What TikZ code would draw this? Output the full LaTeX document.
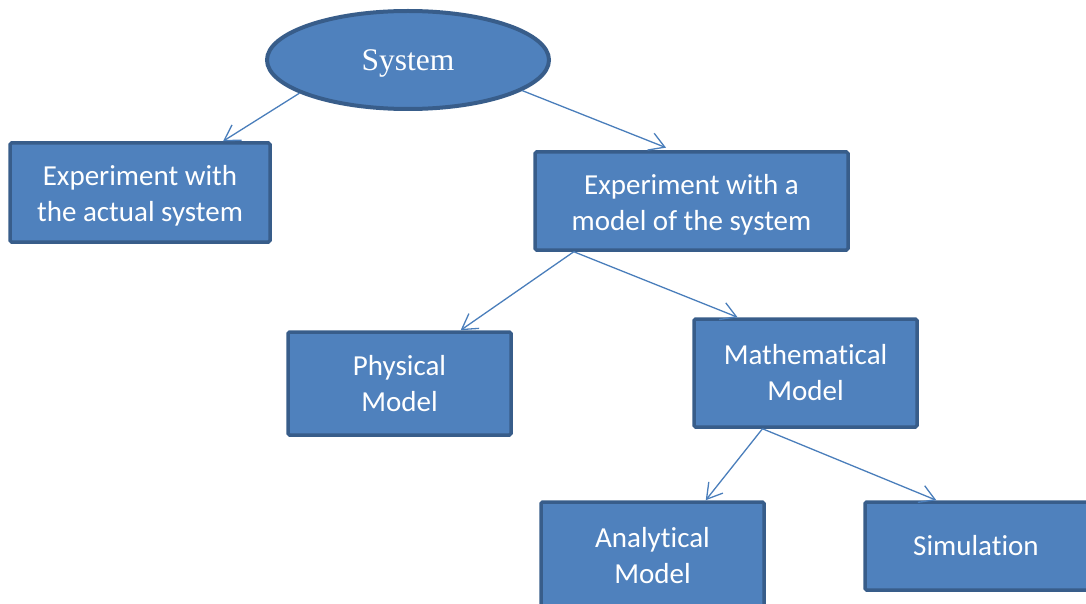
\documentclass[tikz,border=0pt]{standalone}
\usepackage{fontspec}
\setmainfont{Carlito}[Ligatures=NoCommon]
\newfontfamily\timesfont{Liberation Serif}
\usetikzlibrary{shapes.geometric,arrows.meta,calc}
\definecolor{boxfill}{HTML}{4F81BD}
\definecolor{boxline}{HTML}{385D8A}
\definecolor{arrowc}{HTML}{4A7EBB}
\begin{document}
\begin{tikzpicture}[x=1pt,y=-1pt,
  box/.style={draw=boxline, fill=boxfill, line width=3.5pt, rounded corners=1.5pt,
    text=white, align=center, font=\fontsize{29}{36}\selectfont, inner sep=0pt},
  txt/.style={text=white, align=center, font=\fontsize{29}{36}\selectfont, inner sep=0pt},
  link/.style={draw=arrowc, line width=1.3pt, -{Straight Barb[length=15pt,width=18pt]}}]
\useasboundingbox (0,0) rectangle (1086,604);
\clip (0,0) rectangle (1086,604);
\node[ellipse, draw=boxline, fill=boxfill, line width=4pt, minimum width=282pt,
  minimum height=98pt, text=white, font=\timesfont\fontsize{31.5}{36}\selectfont,
  inner sep=0pt] (sys) at (408,60) {\raisebox{-11pt}[0pt][0pt]{System}};
\node[box, minimum width=260pt, minimum height=99pt,
  label={[txt, yshift=-3.5pt]center:{Experiment with\\the actual system}}] (act) at (140,192.5) {};
\node[box, minimum width=313pt, minimum height=98pt,
  label={[txt, yshift=-3.5pt]center:{Experiment with a\\model of the system}}] (mod) at (691.5,201) {};
\node[box, minimum width=223pt, minimum height=103pt] (phys) at (399.5,383.5)
  {Physical\\Model};
\node[box, minimum width=223pt, minimum height=108pt] (math) at (805.5,373)
  {Mathematical\\Model};
\node[box, minimum width=223pt, minimum height=108pt] (ana) at (652.5,556)
  {Analytical\\Model};
\node[box, minimum width=240pt, minimum height=88pt] (sim) at (985,546)
  {\hspace*{-18pt}Simulation};
\draw[link] (sys.197) -- ($(act.north west)!0.815!(act.north east)$);
\draw[link, shorten >=7pt] (sys.345) -- ($(mod.north west)!0.44!(mod.north east)$);
\draw[link] ($(mod.south west)!0.128!(mod.south east)$) -- ($(phys.north west)!0.77!(phys.north east)$);
\draw[link] ($(mod.south west)!0.128!(mod.south east)$) -- ($(math.north west)!0.2!(math.north east)$);
\draw[link] ($(math.south west)!0.31!(math.south east)$) -- ($(ana.north west)!0.735!(ana.north east)$);
\draw[link] ($(math.south west)!0.31!(math.south east)$) -- ($(sim.north west)!0.3!(sim.north east)$);
\end{tikzpicture}
\end{document}
